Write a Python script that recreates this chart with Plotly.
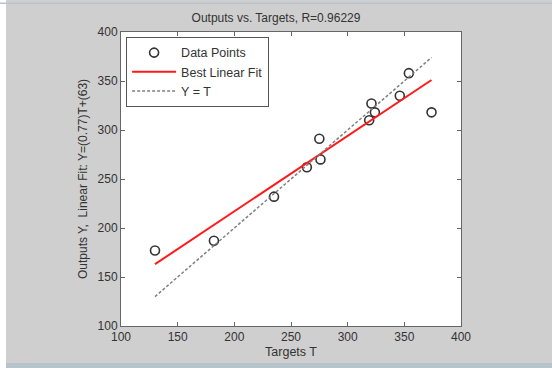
import plotly.graph_objects as go

# Data
targets = [130, 182, 235, 264, 275, 276, 319, 321, 324, 346, 354, 374]
outputs = [177, 187, 232, 262, 291, 270, 310, 327, 318, 335, 358, 318]
fit_slope = 0.77
fit_intercept = 63
title_text = "Outputs vs. Targets, R=0.96229"
x_ticks = [100, 150, 200, 250, 300, 350, 400]
y_ticks = [100, 150, 200, 250, 300, 350, 400]

tmin, tmax = min(targets), max(targets)
fit_x = [tmin, tmax]
fit_y = [fit_slope * t + fit_intercept for t in fit_x]

FONT = "Liberation Sans, Arial, sans-serif"
TXT = "#333333"

fig = go.Figure()
fig.add_trace(go.Scatter(
    x=targets, y=outputs, mode="markers", name="Data Points",
    marker=dict(symbol="circle-open", size=9, color="#333333", line=dict(width=1.6))))
fig.add_trace(go.Scatter(
    x=fit_x, y=fit_y, mode="lines", name="Best Linear Fit",
    line=dict(color="#ff1a1a", width=2)))
fig.add_trace(go.Scatter(
    x=fit_x, y=fit_x, mode="lines", name="Y = T",
    line=dict(color="#808080", width=1.5, dash="3px,2px")))

axis_common = dict(
    showline=True, linecolor="#666666", linewidth=1, mirror="allticks",
    ticks="inside", ticklen=4, tickcolor="#666666", showgrid=False, zeroline=False,
    tickfont=dict(family=FONT, size=12, color=TXT))

fig.update_xaxes(range=[100, 400], tickvals=x_ticks,
                 title=dict(text="Targets T", font=dict(family=FONT, size=12.5, color=TXT), standoff=3),
                 **axis_common)
fig.update_yaxes(range=[100, 400], tickvals=y_ticks,
                 title=dict(text="Outputs Y,  Linear Fit: Y=(0.77)T+(63)",
                            font=dict(family=FONT, size=12, color=TXT), standoff=7),
                 **axis_common)

fig.update_layout(
    width=552, height=368,
    margin=dict(l=121, r=91, t=32, b=42),
    paper_bgcolor="#cfcfcf", plot_bgcolor="white",
    title=dict(text=title_text, x=0.5, xanchor="center", y=0.951, yanchor="middle",
               font=dict(family=FONT, size=12, color=TXT)),
    legend=dict(x=0.015, y=0.983, xanchor="left", yanchor="top",
                bgcolor="white", bordercolor="#555555", borderwidth=1,
                font=dict(family=FONT, size=12.5, color=TXT),
                tracegroupgap=0, itemwidth=44),
    showlegend=True,
    shapes=[
        dict(type="rect", xref="paper", yref="paper", x0=-121/340, x1=-115/340, y0=-0.2, y1=1.2,
             fillcolor="white", line=dict(width=0), layer="below"),
        dict(type="rect", xref="paper", yref="paper", x0=-121/340, x1=1 + 91/340,
             y0=1 + 28/294, y1=1 + 29.5/294, fillcolor="#b8c4cc", line=dict(width=0)),
        dict(type="rect", xref="paper", yref="paper", x0=-115/340, x1=1 + 91/340,
             y0=-42/294, y1=-37/294, fillcolor="#b8c4cc", line=dict(width=0)),
    ],
)

fig.write_html("out.html", config={"displayModeBar": False},
               post_script="document.body.style.margin='0';")
